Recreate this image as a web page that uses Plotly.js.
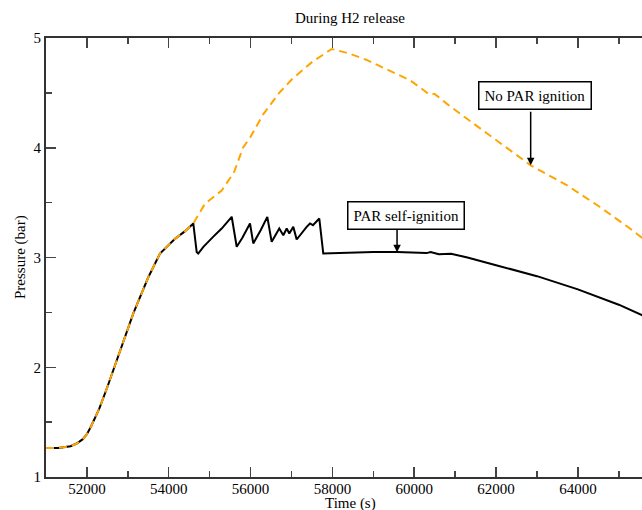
<!DOCTYPE html>
<html>
<head>
<meta charset="utf-8">
<script src="https://cdn.plot.ly/plotly-3.0.1.min.js"></script>
<style>html,body{margin:0;padding:0;background:#fff;}#chart{width:642px;height:510px;}</style>
</head>
<body>
<div id="chart"></div>
<script>
// No PAR ignition (orange dashed)
var noParTime = [51000, 51300, 51600, 51750, 51900, 52000, 52100, 52200, 52300, 52500, 53000, 53134, 53500, 53786, 54153, 54400, 54600,
  54886, 55294, 55600, 55815, 56000, 56300, 56700, 57000, 57500, 57983, 58400, 58838, 59400, 59897, 60250, 60345, 60500,
  60800, 61283, 62096, 62846, 63726, 64540, 65273, 65600];
var noParPressure = [1.265, 1.265, 1.28, 1.305, 1.345, 1.39, 1.46, 1.54, 1.62, 1.82, 2.35, 2.49, 2.82, 3.036, 3.17, 3.24, 3.31,
  3.49, 3.61, 3.78, 4.0, 4.1, 4.3, 4.5, 4.62, 4.78, 4.90, 4.86, 4.80, 4.70, 4.615, 4.52, 4.49, 4.49,
  4.40, 4.266, 4.04, 3.84, 3.66, 3.46, 3.264, 3.17];

// PAR self-ignition (black solid)
var parTime = [51000, 51300, 51600, 51750, 51900, 52000, 52100, 52200, 52300, 52500, 53000, 53134, 53500, 53786, 54153, 54400, 54600,
  54683, 54721, 54846, 55090, 55293, 55539, 55661, 55800, 55986, 56066, 56250, 56409, 56516, 56702, 56800, 56883, 56946,
  57044, 57127, 57371, 57452, 57525, 57680, 57777, 58186, 58500, 59000, 59580, 60000, 60300, 60400, 60600, 60900,
  61300, 62000, 63000, 64000, 65000, 65600];
var parPressure = [1.265, 1.265, 1.28, 1.305, 1.345, 1.39, 1.46, 1.54, 1.62, 1.82, 2.35, 2.49, 2.82, 3.036, 3.17, 3.24, 3.31,
  3.05, 3.036, 3.097, 3.19, 3.264, 3.371, 3.098, 3.18, 3.310, 3.128, 3.25, 3.370, 3.143, 3.264, 3.203, 3.264, 3.219,
  3.279, 3.164, 3.279, 3.310, 3.294, 3.355, 3.036, 3.042, 3.045, 3.05, 3.05, 3.045, 3.04, 3.05, 3.03, 3.035,
  3.0, 2.93, 2.83, 2.71, 2.57, 2.47];

var xTicks = [52000, 54000, 56000, 58000, 60000, 62000, 64000];
var yTicks = [1, 2, 3, 4, 5];

var F = 'Liberation Serif, Times New Roman, serif';

var traces = [
  {x: parTime, y: parPressure, type: 'scatter', mode: 'lines', name: 'PAR self-ignition',
   line: {color: '#000000', width: 2}},
  {x: noParTime, y: noParPressure, type: 'scatter', mode: 'lines', name: 'No PAR ignition',
   line: {color: '#FFA500', width: 2, dash: '8px,5px'}}
];

var layout = {
  width: 642, height: 510,
  margin: {l: 46, r: 0, t: 38, b: 33, pad: 0},
  paper_bgcolor: '#ffffff', plot_bgcolor: '#ffffff',
  showlegend: false,
  font: {family: F, size: 15, color: '#000'},
  title: {text: 'During H2 release', font: {family: F, size: 15, color: '#000'},
          x: 350/642, xanchor: 'center', xref: 'container', y: 1 - 18/510, yanchor: 'middle', yref: 'container'},
  xaxis: {range: [51000, 65567], tickvals: xTicks, ticktext: xTicks.map(String),
          ticks: 'inside', ticklen: 10, tickwidth: 1.5, tickcolor: '#444',
          showline: true, linecolor: '#333', linewidth: 2, mirror: 'ticks',
          showgrid: false, zeroline: false, ticklabelstandoff: -3,
          minor: {dtick: 1000, tick0: 51000, ticks: 'inside', ticklen: 6, tickwidth: 1.5, tickcolor: '#444', showgrid: false},
          tickfont: {family: F, size: 15, color: '#000'}},
  yaxis: {range: [1, 5], tickvals: yTicks, ticktext: yTicks.map(String),
          ticks: 'inside', ticklen: 10, tickwidth: 1.5, tickcolor: '#444',
          showline: true, linecolor: '#333', linewidth: 2, mirror: false,
          showgrid: false, zeroline: false,
          minor: {dtick: 0.5, tick0: 1, ticks: 'inside', ticklen: 6, tickwidth: 1.5, tickcolor: '#444', showgrid: false},
          tickfont: {family: F, size: 15, color: '#000'}},
  annotations: [
    {x: (350 - 46) / 596, y: (477 - 503) / 439, xref: 'paper', yref: 'paper', text: 'Time (s)', showarrow: false,
     xanchor: 'center', yanchor: 'middle', font: {family: F, size: 15, color: '#000'}},
    {x: (20 - 46) / 596, y: (477 - 257) / 439, xref: 'paper', yref: 'paper', text: 'Pressure (bar)', showarrow: false,
     textangle: -90, xanchor: 'center', yanchor: 'middle', font: {family: F, size: 15, color: '#000'}},
    {x: 62944, y: 4.478, xref: 'x', yref: 'y', text: 'No PAR ignition', showarrow: false,
     font: {family: F, size: 15, color: '#000'}, bgcolor: '#fff', bordercolor: '#000', borderwidth: 1.5, borderpad: 5},
    {x: 62846, y: 3.84, xref: 'x', yref: 'y', text: '', showarrow: true, ax: 0, ay: -55,
     arrowhead: 2, arrowsize: 1, arrowwidth: 1.5, arrowcolor: '#000'},
    {x: 59791, y: 3.385, xref: 'x', yref: 'y', text: 'PAR self-ignition', showarrow: false,
     font: {family: F, size: 15, color: '#000'}, bgcolor: '#fff', bordercolor: '#000', borderwidth: 1.5, borderpad: 5},
    {x: 59580, y: 3.048, xref: 'x', yref: 'y', text: '', showarrow: true, ax: 0, ay: -24,
     arrowhead: 2, arrowsize: 1, arrowwidth: 1.5, arrowcolor: '#000'}
  ]
};

Plotly.newPlot('chart', traces, layout, {displayModeBar: false, staticPlot: true});
</script>
</body>
</html>
